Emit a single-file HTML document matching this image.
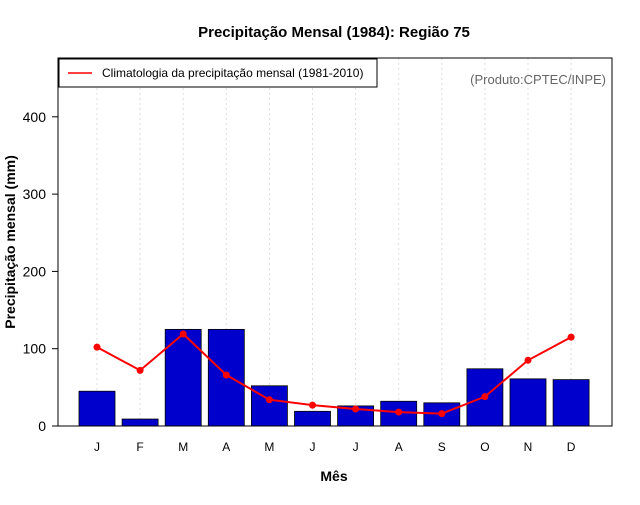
<!DOCTYPE html>
<html><head><meta charset="utf-8"><style>
body{margin:0;background:#fff;font-family:"Liberation Sans",sans-serif}
</style></head><body>
<svg width="640" height="500" xmlns="http://www.w3.org/2000/svg" font-family="Liberation Sans, sans-serif">
<rect width="640" height="500" fill="#fff"/>
<text x="334" y="37" text-anchor="middle" font-size="15" font-weight="bold">Precipitação Mensal (1984): Região 75</text>
<g id="grid"></g>
<g id="bars"></g>
<g id="line"></g>
<g id="axes"></g>
<rect x="58" y="58" width="554" height="368" fill="none" stroke="#000"/>
<text x="606" y="84" text-anchor="end" font-size="13" fill="#666">(Produto:CPTEC/INPE)</text>
<g>
<rect x="59" y="59" width="318" height="28" fill="#fff" stroke="#000"/>
<line x1="68" y1="73" x2="92" y2="73" stroke="red" stroke-width="1.5"/>
<text x="102" y="77" font-size="12">Climatologia da precipitação mensal (1981-2010)</text>
</g>
<text x="334" y="481" text-anchor="middle" font-size="14" font-weight="bold">Mês</text>
<text transform="translate(15,242) rotate(-90)" text-anchor="middle" font-size="14" font-weight="bold">Precipitação mensal (mm)</text>
</svg>
<script>
const months=["J","F","M","A","M","J","J","A","S","O","N","D"];
const precip=[45,9,125,125,52,19,26,32,30,74,61,60];
const climatology=[102,72,119,66,34,27,22,18,16,38,85,115];
const yTicks=[0,100,200,300,400];
const NS="http://www.w3.org/2000/svg";
const x0=97,dx=43.1;
function xs(i){return x0+i*dx;}
function ys(v){return 426-v*0.773;}
function mk(tag,attrs,parent){const e=document.createElementNS(NS,tag);for(const k in attrs)e.setAttribute(k,attrs[k]);document.getElementById(parent).appendChild(e);return e;}
months.forEach((m,i)=>{
 const g=mk("line",{x1:xs(i),x2:xs(i),y1:58,y2:426,stroke:"#ddd","stroke-dasharray":"2,3"},"grid");
 
 
 const b=mk("rect",{x:xs(i)-18,y:ys(precip[i]),width:36,height:426-ys(precip[i]),fill:"#0000cd",stroke:"#000","stroke-width":0.8},"bars");
 
 
 const t=mk("text",{x:xs(i),y:451,"text-anchor":"middle","font-size":12},"axes");
 t.textContent=m;
 
 
});
const pts=climatology.map((v,i)=>xs(i)+","+ys(v)).join(" ");
const pl=mk("polyline",{points:pts,fill:"none",stroke:"red","stroke-width":2},"line");


climatology.forEach((v,i)=>{
 const c=mk("circle",{cx:xs(i),cy:ys(v),r:3.5,fill:"red"},"line");
 
 
});
yTicks.forEach(v=>{
 const l=mk("line",{x1:52,x2:58,y1:ys(v),y2:ys(v),stroke:"#000"},"axes");
 
 
 const t=mk("text",{x:46,y:ys(v)+5,"text-anchor":"end","font-size":14},"axes");
 t.textContent=v;
 
 
});
</script>
</body></html>
